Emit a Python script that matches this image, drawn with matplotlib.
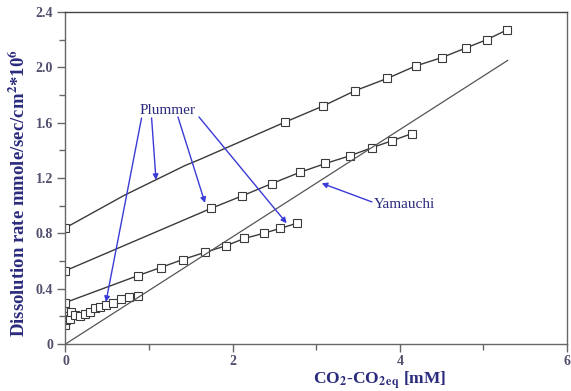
import matplotlib
matplotlib.use("Agg")
import matplotlib.pyplot as plt

# ---- data ----
# Plummer, top series (first segment is an unmarked fitted curve)
a_x = [0.0, 0.71, 1.43, 1.61, 2.63, 3.08, 3.46, 3.85, 4.19, 4.50, 4.79, 5.04, 5.28]
a_y = [0.84, 1.077, 1.29, 1.335, 1.605, 1.72, 1.83, 1.92, 2.01, 2.07, 2.14, 2.20, 2.27]
a_marked = [0, 4, 5, 6, 7, 8, 9, 10, 11, 12]

# Plummer, middle series
b_x = [0.0, 1.74, 2.11, 2.47, 2.80, 3.11, 3.40, 3.67, 3.91, 4.14]
b_y = [0.53, 0.98, 1.07, 1.16, 1.24, 1.305, 1.36, 1.42, 1.47, 1.52]

# Plummer, lower series
c_x = [0.0, 0.87, 1.14, 1.40, 1.67, 1.92, 2.14, 2.37, 2.57, 2.77]
c_y = [0.30, 0.495, 0.553, 0.61, 0.663, 0.71, 0.763, 0.80, 0.836, 0.873]

# Plummer, low-pCO2 cluster
d_x = [0.0, 0.01, 0.02, 0.03, 0.05, 0.07, 0.11, 0.17, 0.23, 0.29, 0.35, 0.41,
       0.48, 0.57, 0.66, 0.76, 0.87]
d_y = [0.14, 0.17, 0.19, 0.20, 0.18, 0.23, 0.21, 0.20, 0.22, 0.23, 0.26, 0.27,
       0.28, 0.30, 0.325, 0.34, 0.35]

# Yamauchi line
y_x = [0.0, 5.29]
y_y = [0.0, 2.05]

x_ticks = [0, 2, 4, 6]
y_ticks = [0, 0.4, 0.8, 1.2, 1.6, 2.0, 2.4]
y_ticklabels = ["0", "0.4", "0.8", "1.2", "1.6", "2.0", "2.4"]

# ---- styling ----
plt.rcParams["font.family"] = ["Liberation Serif", "DejaVu Serif"]
plt.rcParams["mathtext.fontset"] = "stix"

navy = "#2b2b7e"
blue = "#3a3ad6"
tickc = "#50506e"
linec = "#3a3a3a"

fig = plt.figure(figsize=(5.71, 3.91), dpi=100)
ax = fig.add_axes([0.1147, 0.1202, 0.8783, 0.8491])

mk = dict(marker="s", ms=5.5, mfc="white", mec=linec, mew=0.8, color=linec, lw=1.0)
ax.plot(a_x, a_y, markevery=a_marked, **mk)
ax.plot(b_x, b_y, **mk)
ax.plot(c_x, c_y, **mk)
ax.plot(d_x, d_y, **mk)
ax.plot(y_x, y_y, color="#555555", lw=0.9)

ax.set_xlim(0, 6)
ax.set_ylim(0, 2.4)
ax.set_xticks(x_ticks)
ax.set_xticklabels([str(t) for t in x_ticks])
ax.set_xticks([1, 3, 5], minor=True)
ax.set_yticks(y_ticks)
ax.set_yticklabels(y_ticklabels)
ax.set_yticks([0.2, 0.6, 1.0, 1.4, 1.8, 2.2], minor=True)

for s in ax.spines.values():
    s.set_color("#666666")
    s.set_linewidth(1.0)
ax.spines["top"].set_color("#444444")

ax.tick_params(which="both", direction="out", color="#666666", width=1.0)
ax.tick_params(which="major", length=6, labelsize=10, labelcolor=tickc, pad=3)
ax.tick_params(axis="x", which="major", pad=2)
ax.tick_params(which="minor", length=4)
for lab in ax.get_xticklabels() + ax.get_yticklabels():
    lab.set_fontweight("bold")

ax.set_ylabel(r"Dissolution rate mmole/sec/cm$^{\mathbf{2}}$*10$^{\mathbf{6}}$",
              fontsize=13.5, fontweight="bold", color=navy)
ax.yaxis.set_label_coords(-0.072, 0.456)
ax.set_xlabel(r"CO$_{\mathbf{2}}$-CO$_{\mathbf{2\,eq}}$ [mM]",
              fontsize=12.5, fontweight="bold", color=navy)
ax.xaxis.set_label_coords(0.627, -0.078)

# ---- annotations ----
ax.text(1.226, 1.69, "Plummer", fontsize=11, color=navy, ha="center", va="center")
arrow = dict(arrowstyle="-|>", color=blue, lw=1.0, mutation_scale=8, shrinkA=0, shrinkB=0)
for start, tip in [((0.91, 1.634), (0.484, 0.304)),
                   ((1.03, 1.634), (1.083, 1.186)),
                   ((1.346, 1.641), (1.669, 1.02)),
                   ((1.597, 1.641), (2.646, 0.873))]:
    ax.annotate("", xy=tip, xytext=start, arrowprops=arrow)

ax.text(3.69, 1.005, "Yamauchi", fontsize=11, color=navy, ha="left", va="center")
ax.annotate("", xy=(3.065, 1.162), xytext=(3.666, 1.027), arrowprops=arrow)

fig.savefig("out.png", dpi=100)
